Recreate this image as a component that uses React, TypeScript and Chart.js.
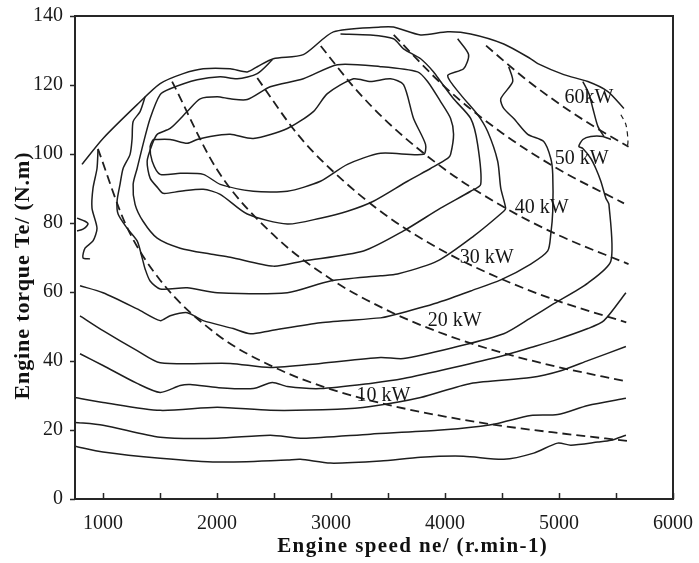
import React, { useEffect, useRef } from 'react';
import { Chart, registerables } from 'chart.js';

Chart.register(...registerables);

type Pt = [number, number];

// axis ticks
const speedTicks = [1000, 1500, 2000, 2500, 3000, 3500, 4000, 4500, 5000, 5500, 6000];
const torqueTicks = [0, 20, 40, 60, 80, 100, 120, 140];

// outer full-load curve
const wotCurve: Pt[] = [
  [815, 97.0], [1000, 104.5], [1299, 114.3], [1501, 120.4], [1703, 123.3], [1879, 124.7],
  [2116, 124.7], [2265, 123.8], [2353, 125.3], [2494, 127.6], [2757, 128.8], [3021, 135.4],
  [3434, 136.8], [3548, 136.8], [3786, 134.5], [4023, 135.4], [4225, 134.8], [4515, 131.9],
  [4752, 127.6], [4814, 126.2], [5042, 123.0], [5253, 121.0], [5429, 118.1], [5569, 113.2],
];
const wotTail: Pt[] = [[5543, 111.4], [5587, 108.5], [5605, 103.6], [5596, 101.6]];

// efficiency contours
const contourA: Pt[] = [
  [1369, 116.6], [1325, 112.3], [1264, 109.4], [1255, 104.5], [1237, 99.9], [1176, 95.8],
  [1149, 91.2], [1123, 86.3], [1132, 82.6], [1211, 78.5], [1299, 74.8], [1343, 69.9],
  [1369, 66.7], [1413, 63.2], [1501, 60.9], [1738, 61.2], [2002, 59.8], [2617, 59.8],
  [2995, 63.2], [3434, 64.7], [3583, 65.2], [3935, 69.0], [4251, 76.2], [4515, 83.4],
  [4532, 84.3], [4489, 90.1], [4462, 97.9], [4374, 106.5], [4286, 111.4], [4137, 117.2],
  [4023, 122.7], [4163, 124.7], [4207, 128.8], [4111, 133.4],
];
const contourB: Pt[] = [
  [2485, 127.3], [2353, 123.3], [2177, 121.8], [2028, 122.4], [1826, 121.5], [1589, 118.9],
  [1501, 117.2], [1413, 110.3], [1351, 102.8], [1299, 95.8], [1264, 91.2], [1281, 85.4],
  [1351, 80.5], [1475, 75.6], [1677, 72.7], [1940, 71.0], [2116, 70.1], [2494, 67.5],
  [2757, 69.0], [3285, 71.9], [3636, 77.7], [3961, 84.3], [4225, 89.2], [4313, 91.2],
  [4286, 102.8], [4225, 110.3], [4075, 116.0], [3961, 121.0], [3900, 123.8], [3786, 127.6],
  [3636, 130.5], [3548, 133.4], [3346, 134.5], [3083, 134.8],
];
const contourC: Pt[] = [
  [1738, 112.3], [1852, 116.0], [2002, 116.6], [2116, 116.0], [2265, 115.8], [2467, 119.5],
  [2757, 121.8], [3056, 125.9], [3434, 125.3], [3759, 123.8], [3847, 121.0], [3961, 115.2],
  [4049, 110.3], [4075, 105.7], [4049, 99.9], [4023, 98.7], [3873, 95.8], [3671, 92.1],
  [3372, 86.3], [3144, 83.4], [2907, 81.4], [2617, 79.7], [2265, 82.6], [2028, 88.3],
  [1879, 89.8], [1677, 89.2], [1527, 88.6], [1483, 90.1], [1413, 93.0], [1387, 97.9],
  [1431, 102.8], [1475, 105.7], [1589, 107.4], [1738, 112.3],
];
const contourD: Pt[] = [
  [1439, 104.2], [1589, 104.2], [1738, 103.1], [1826, 104.2], [1940, 105.1], [2116, 105.7],
  [2318, 104.5], [2617, 107.4], [2845, 112.3], [2968, 117.5], [3197, 121.8], [3346, 121.0],
  [3522, 121.8], [3636, 120.1], [3724, 110.3], [3829, 102.8], [3812, 99.9], [3434, 100.2],
  [3144, 97.0], [2907, 92.1], [2617, 89.2], [2318, 89.2], [2028, 91.2], [1879, 94.1],
  [1677, 94.4], [1501, 94.1], [1431, 97.9], [1413, 102.2], [1439, 104.2],
];
const contourE: Pt[] = [
  [798, 61.8], [1000, 59.8], [1299, 55.1], [1501, 51.7], [1589, 53.1], [1738, 54.0],
  [1879, 51.7], [2142, 49.4], [2292, 47.9], [2467, 48.8], [2907, 51.1], [3434, 52.5],
  [3522, 53.1], [3935, 56.9], [4225, 60.3], [4489, 63.5], [4752, 68.1], [4901, 71.9],
  [4928, 76.8], [4945, 83.4], [4945, 94.1], [4928, 98.7], [4866, 103.6], [4726, 105.7],
  [4603, 110.3], [4515, 113.2], [4489, 116.0], [4594, 121.0], [4559, 125.3],
];
const contourF: Pt[] = [
  [798, 53.1], [1000, 48.8], [1299, 43.0], [1501, 39.5], [2116, 39.3], [2467, 38.1],
  [2907, 39.3], [3434, 41.0], [3636, 40.7], [4075, 43.9], [4515, 47.9], [4752, 52.5],
  [4954, 56.6], [5253, 62.6], [5455, 69.0], [5438, 85.4], [5411, 87.2], [5367, 92.1],
  [5323, 95.8], [5279, 98.7], [5209, 101.6], [5174, 102.2], [5209, 104.2], [5279, 105.1],
  [5385, 105.1], [5455, 104.2],
];
const contourHook: Pt[] = [[5209, 121.0], [5262, 117.5], [5297, 113.2], [5341, 108.0], [5394, 105.1]];
const contourG: Pt[] = [
  [798, 42.1], [1000, 38.7], [1299, 33.5], [1501, 30.9], [1677, 32.9], [1765, 33.2],
  [2002, 32.3], [2318, 32.0], [2485, 33.8], [2617, 32.6], [2907, 32.0], [3346, 33.5],
  [3636, 34.9], [4075, 38.1], [4515, 41.6], [4752, 43.9], [4954, 45.9], [5253, 49.4],
  [5394, 51.7], [5587, 59.8],
];
const contourH: Pt[] = [
  [754, 29.4], [1000, 28.0], [1501, 25.7], [2002, 26.6], [2467, 25.7], [3056, 26.0],
  [3346, 26.8], [3786, 29.4], [4225, 33.5], [4752, 35.2], [5016, 37.2], [5253, 40.1],
  [5587, 44.2],
];
const contourI: Pt[] = [
  [754, 22.2], [1000, 21.4], [1501, 17.9], [2002, 17.6], [2467, 18.5], [2757, 17.6],
  [3346, 18.8], [3935, 19.9], [4313, 21.1], [4462, 21.9], [4752, 24.2], [4989, 24.5],
  [5253, 27.1], [5587, 29.2],
];
const contourJ: Pt[] = [
  [754, 15.3], [1000, 13.6], [1501, 11.8], [2002, 10.7], [2617, 11.3], [2731, 11.5],
  [2995, 10.4], [3434, 11.0], [3786, 12.1], [4163, 12.4], [4515, 11.5], [4778, 13.3],
  [4989, 16.2], [5104, 15.6], [5341, 16.5], [5455, 17.0], [5587, 18.5],
];
const wavyLeft: Pt[] = [
  [956, 101.3], [947, 95.8], [912, 90.1], [903, 84.3], [947, 78.5], [912, 74.8],
  [842, 72.7], [824, 69.9], [886, 69.6],
];
const squiggleLeft: Pt[] = [[772, 81.4], [842, 80.5], [868, 79.7], [824, 78.2], [772, 77.7]];

// constant power lines (dashed)
const power10: Pt[] = [
  [955, 101.5], [1200, 79.5], [1500, 63.5], [2000, 47.7], [2500, 38.2], [3000, 31.8],
  [3500, 27.3], [4000, 23.9], [4500, 21.2], [5000, 19.1], [5610, 16.8],
];
const power20: Pt[] = [
  [1606, 121.0], [2000, 95.5], [2500, 76.4], [3000, 63.7], [3500, 54.6], [4000, 47.7],
  [4500, 42.4], [5000, 38.2], [5560, 34.3],
];
const power30: Pt[] = [
  [2353, 122.0], [2700, 106.0], [3000, 95.5], [3500, 81.8], [4000, 71.6], [4500, 63.7],
  [5000, 57.3], [5590, 51.2],
];
const power40: Pt[] = [
  [2910, 131.3], [3200, 119.4], [3500, 109.1], [4000, 95.5], [4500, 84.9], [5000, 76.4],
  [5610, 68.1],
];
const power50: Pt[] = [[3550, 134.5], [4000, 119.4], [4500, 106.1], [5000, 95.5], [5570, 85.7]];
const power60: Pt[] = [[4360, 131.4], [4700, 121.9], [5000, 114.6], [5300, 108.1], [5610, 102.1]];

const powerLabels = ['10 kW', '20 kW', '30 kW', '40 kW', '50 kW', '60kW'];
const powerLabelSpeed = [3460, 4084, 4365, 4849, 5200, 5262];
const powerLabelTorque = [30.0, 51.7, 69.9, 84.3, 98.7, 116.3];

const xTitle = 'Engine speed ne/ (r.min-1)';
const yTitle = 'Engine torque Te/ (N.m)';

const INK = '#1e1e1e';
const SERIF = '"Liberation Serif", "Times New Roman", serif';

function toXY(arr: Pt[]) {
  return arr.map(([x, y]) => ({ x, y }));
}

function solid(arr: Pt[]) {
  return {
    data: toXY(arr),
    borderColor: INK,
    borderWidth: 1.5,
    pointRadius: 0,
    fill: false,
    tension: 0.25,
  };
}

function dashed(arr: Pt[]) {
  return {
    data: toXY(arr),
    borderColor: INK,
    borderWidth: 1.8,
    borderDash: [9, 5],
    pointRadius: 0,
    fill: false,
    cubicInterpolationMode: 'monotone' as const,
  };
}

function drawSpaced(ctx: CanvasRenderingContext2D, text: string, cx: number, cy: number, target: number) {
  const anyCtx = ctx as any;
  anyCtx.letterSpacing = '0px';
  const natural = ctx.measureText(text).width;
  const sp = Math.max(0, (target - natural) / text.length);
  anyCtx.letterSpacing = sp.toFixed(2) + 'px';
  ctx.textAlign = 'center';
  ctx.textBaseline = 'middle';
  ctx.fillText(text, cx + sp / 2, cy);
  anyCtx.letterSpacing = '0px';
}

const decor = {
  id: 'decor',
  afterDraw(chart: any) {
    const { ctx, chartArea: a, scales } = chart;
    const x = scales.x;
    const y = scales.y;
    ctx.save();
    ctx.strokeStyle = '#262626';
    ctx.lineWidth = 2;
    ctx.strokeRect(a.left, a.top, a.right - a.left, a.bottom - a.top);
    ctx.lineWidth = 1.5;
    ctx.beginPath();
    speedTicks.forEach((v) => {
      const px = Math.round(x.getPixelForValue(v)) + 0.5;
      ctx.moveTo(px, a.bottom);
      ctx.lineTo(px, a.bottom - 6);
    });
    torqueTicks.forEach((v) => {
      const py = Math.round(y.getPixelForValue(v)) + 0.5;
      ctx.moveTo(a.left - 5, py);
      ctx.lineTo(a.left, py);
    });
    ctx.stroke();

    ctx.fillStyle = '#161616';
    ctx.font = '20px ' + SERIF;
    ctx.textAlign = 'center';
    ctx.textBaseline = 'middle';
    powerLabels.forEach((t, i) => {
      ctx.fillText(t, x.getPixelForValue(powerLabelSpeed[i]), y.getPixelForValue(powerLabelTorque[i]));
    });

    ctx.fillStyle = '#111';
    ctx.font = 'bold 21px ' + SERIF;
    drawSpaced(ctx, xTitle, 412, 547, 271);

    ctx.save();
    ctx.translate(23, 276);
    ctx.rotate(-Math.PI / 2);
    ctx.font = 'bold 22px ' + SERIF;
    drawSpaced(ctx, yTitle, 0, 0, 248);
    ctx.restore();
    ctx.restore();
  },
};

export default function App() {
  const ref = useRef<HTMLCanvasElement | null>(null);

  useEffect(() => {
    if (!ref.current) return;
    const datasets: any[] = [
      solid(wotCurve),
      { ...dashed(wotTail), borderWidth: 1.2, borderDash: [5, 4], cubicInterpolationMode: 'default', tension: 0.3 },
      solid(contourA),
      solid(contourB),
      solid(contourC),
      solid(contourD),
      solid(contourE),
      solid(contourF),
      solid(contourHook),
      solid(contourG),
      solid(contourH),
      solid(contourI),
      solid(contourJ),
      solid(wavyLeft),
      solid(squiggleLeft),
      dashed(power10),
      dashed(power20),
      dashed(power30),
      dashed(power40),
      dashed(power50),
      dashed(power60),
    ];
    const chart = new Chart(ref.current, {
      type: 'line',
      data: { datasets },
      options: {
        animation: false,
        responsive: false,
        layout: { padding: { left: 0, top: 14, right: 26, bottom: 0 } },
        plugins: { legend: { display: false }, tooltip: { enabled: false } },
        elements: { point: { radius: 0 } },
        scales: {
          x: {
            type: 'linear',
            min: 754,
            max: 6000,
            afterFit: (s: any) => { s.height = 64; },
            afterBuildTicks: (s: any) => { s.ticks = speedTicks.map((v) => ({ value: v })); },
            ticks: {
              autoSkip: false,
              maxRotation: 0,
              padding: 5,
              color: '#1a1a1a',
              font: { family: SERIF, size: 20 },
              callback: (v: any) => (Number(v) % 1000 === 0 ? String(v) : ''),
            },
            grid: { display: false },
            border: { display: false },
          },
          y: {
            type: 'linear',
            min: 0,
            max: 140,
            afterFit: (s: any) => { s.width = 75; },
            afterBuildTicks: (s: any) => { s.ticks = torqueTicks.map((v) => ({ value: v })); },
            ticks: {
              autoSkip: false,
              padding: 4,
              color: '#1a1a1a',
              font: { family: SERIF, size: 20 },
            },
            grid: { display: false },
            border: { display: false },
          },
        },
      } as any,
      plugins: [decor],
    });
    return () => chart.destroy();
  }, []);

  return (
    <div style={{ position: 'fixed', left: 0, top: 0, width: 699, height: 563, background: '#fff' }}>
      <canvas ref={ref} width={699} height={563} style={{ display: 'block' }} />
    </div>
  );
}
